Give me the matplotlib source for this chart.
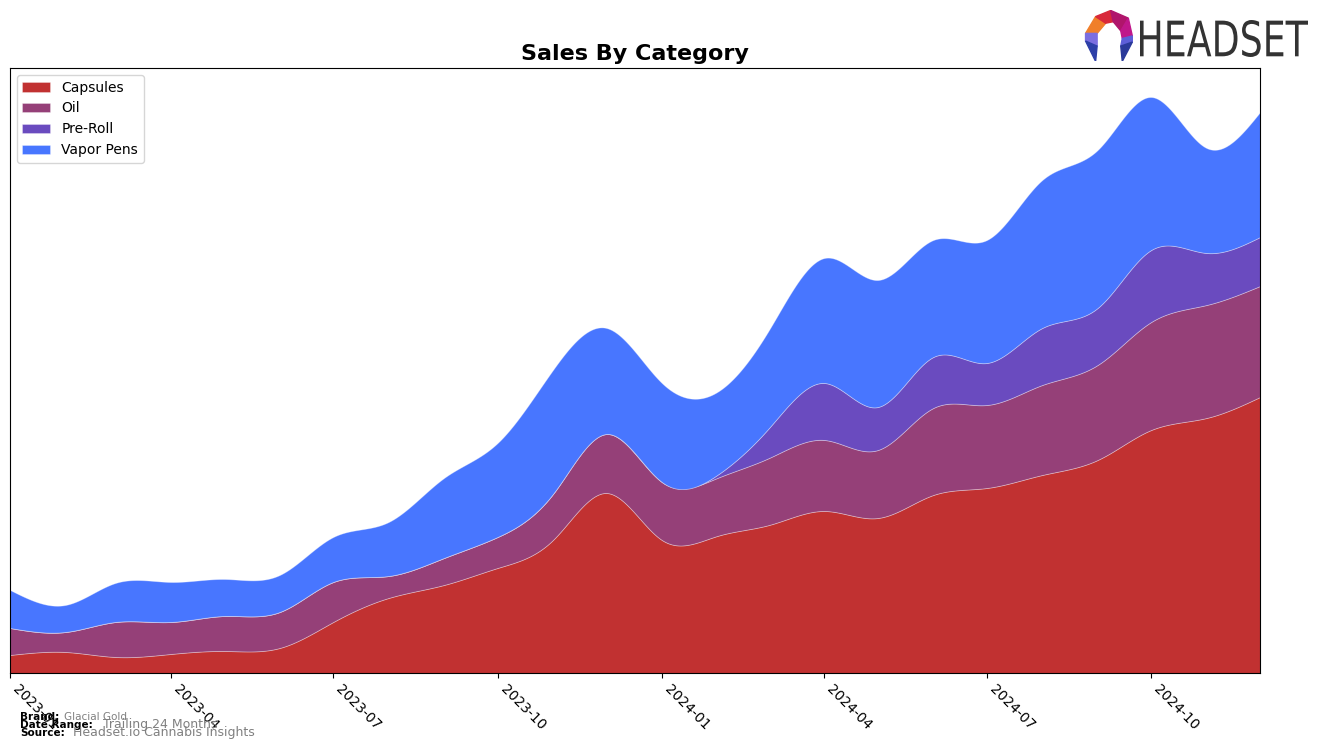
import numpy as np
import pandas as pd
import matplotlib
matplotlib.use("Agg")
import matplotlib.pyplot as plt
import matplotlib.dates as mdates
from matplotlib.patches import Polygon, PathPatch
from matplotlib.textpath import TextPath
from matplotlib.font_manager import FontProperties
from matplotlib.transforms import Affine2D

# Monthly sales by category (arbitrary units)
months = pd.date_range("2023-01-01", "2024-12-01", freq="MS")
categories = ["Capsules", "Oil", "Pre-Roll", "Vapor Pens"]
capsules = [18, 21, 16, 19, 22, 25, 51, 75, 88, 105, 133, 180,
            133, 137, 148, 162, 155, 178, 185, 198, 213, 243, 255, 276]
oil = [27, 20, 35, 32, 35, 36, 40, 22, 27, 31, 46, 59,
       58, 58, 67, 71, 68, 87, 83, 90, 95, 108, 113, 111]
pre_roll = [0, 0, 0, 0, 0, 0, 0, 0, 0, 0, 0, 0,
            0, 3, 30, 57, 43, 51, 42, 57, 57, 72, 52, 49]
vapor_pens = [38, 27, 39, 40, 37, 37, 45, 54, 80, 94, 124, 106,
              99, 83, 98, 125, 127, 117, 123, 148, 158, 153, 105, 125]
colors = ["#c13131", "#954078", "#6a4bbf", "#4876ff"]


def natural_spline(x, y, xs):
    # plain natural cubic spline, only used to draw smooth curves
    x = np.asarray(x, float)
    y = np.asarray(y, float)
    n = len(x)
    h = np.diff(x)
    A = np.zeros((n, n))
    b = np.zeros(n)
    A[0, 0] = A[-1, -1] = 1
    for i in range(1, n - 1):
        A[i, i - 1] = h[i - 1]
        A[i, i] = 2 * (h[i - 1] + h[i])
        A[i, i + 1] = h[i]
        b[i] = 3 * ((y[i + 1] - y[i]) / h[i] - (y[i] - y[i - 1]) / h[i - 1])
    c = np.linalg.solve(A, b)
    idx = np.clip(np.searchsorted(x, xs) - 1, 0, n - 2)
    dx = xs - x[idx]
    bb = (y[idx + 1] - y[idx]) / h[idx] - h[idx] * (2 * c[idx] + c[idx + 1]) / 3
    dd = (c[idx + 1] - c[idx]) / (3 * h[idx])
    return y[idx] + bb * dx + c[idx] * dx ** 2 + dd * dx ** 3


xnum = mdates.date2num(months)
xs = np.linspace(xnum[0], xnum[-1], 800)
series = [capsules, oil, pre_roll, vapor_pens]
smooth = [natural_spline(xnum, s, xs) for s in series]

fig = plt.figure(figsize=(13.24, 7.49), dpi=100)
ax = fig.add_axes([0.00755, 0.1015, 0.9442, 0.8077])

ax.stackplot(xs, *smooth, labels=categories, colors=colors,
             edgecolor=(1, 1, 1, 0.35), linewidth=0.6)

ax.set_xlim(xnum[0], xnum[-1])
ax.set_ylim(0, 605)
ax.set_yticks([])
ax.xaxis.set_major_locator(mdates.MonthLocator(bymonth=[1, 4, 7, 10]))
ax.xaxis.set_major_formatter(mdates.DateFormatter("%Y-%m"))
plt.setp(ax.get_xticklabels(), rotation=-45, ha="left", fontsize=10)
ax.set_title("Sales By Category", fontsize=16, fontweight="bold")
ax.legend(loc="upper left", fontsize=10)

# footer
fig.text(0.015, 0.039, "Brand:", fontsize=7.5, fontweight="bold")
fig.text(0.048, 0.039, "Glacial Gold", fontsize=7.5, color="gray")
fig.text(0.015, 0.028, "Date Range:", fontsize=7.5, fontweight="bold")
fig.text(0.078, 0.028, "Trailing 24 Months", fontsize=9, color="gray")
fig.text(0.015, 0.018, "Source:", fontsize=7.5, fontweight="bold")
fig.text(0.055, 0.018, "Headset.io Cannabis Insights", fontsize=9, color="gray")

# logo word, squeezed into the box the reference uses (display pixels)
tp = TextPath((0, 0), "HEADSET", size=50, prop=FontProperties(family="DejaVu Sans"))
ext = tp.get_extents()
x0, x1, y0, y1 = 1140, 1308, 749 - 57, 749 - 20
tr = (Affine2D().translate(-ext.x0, -ext.y0)
      .scale((x1 - x0) / ext.width, (y1 - y0) / ext.height)
      .translate(x0, y0))
fig.patches.append(PathPatch(tp, transform=tr, facecolor="#333333",
                             edgecolor="none", figure=fig))

lx = fig.add_axes([0.818, 0.918, 0.038, 0.068])
lx.set_xlim(0, 1)
lx.set_ylim(0, 1)
lx.axis("off")
pieces = [
    ([0.05, 0.55], [0.25, 0.88], [0.45, 0.75], [0.28, 0.55], "#f07f2a"),
    ([0.25, 0.88], [0.55, 1.0], [0.6, 0.78], [0.45, 0.75], "#d8283a"),
    ([0.55, 1.0], [0.9, 0.85], [0.75, 0.6], [0.6, 0.78], "#b0156b"),
    ([0.9, 0.85], [0.98, 0.5], [0.78, 0.45], [0.75, 0.6], "#c0178a"),
    ([0.05, 0.55], [0.28, 0.55], [0.28, 0.3], [0.05, 0.4], "#7b6ee0"),
    ([0.05, 0.4], [0.28, 0.3], [0.25, 0.0], "#2d3fa8"),
    ([0.98, 0.5], [0.78, 0.45], [0.75, 0.3], [0.98, 0.38], "#5d5fd8"),
    ([0.98, 0.38], [0.75, 0.3], [0.78, 0.0], "#2a3a9a"),
]
for p in pieces:
    lx.add_patch(Polygon(p[:-1], closed=True, color=p[-1]))

fig.savefig("out.png", dpi=100)
